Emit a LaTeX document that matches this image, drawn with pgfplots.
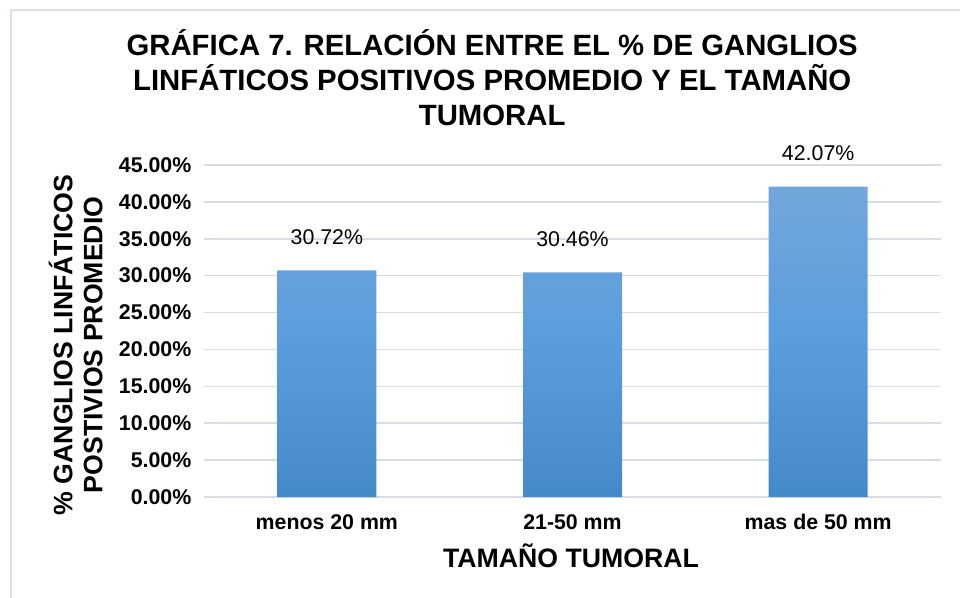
\documentclass[border=0pt]{standalone}
\usepackage{fontspec}
\setmainfont{Liberation Sans}
\usepackage{pgfplots}
\pgfplotsset{compat=1.18}
\definecolor{bartop}{RGB}{114,167,219}
\definecolor{barmid}{RGB}{90,157,221}
\definecolor{barbot}{RGB}{68,137,200}
\definecolor{gridc}{RGB}{217,220,226}
\definecolor{framec}{RGB}{218,223,234}
\begin{document}
\begin{tikzpicture}[x=0.75pt,y=0.75pt]
\path[use as bounding box] (0,0) rectangle (960,597);
\draw[framec, line width=1.2pt] (11,-2) -- (11,587) -- (962,587);
\begin{axis}[
  at={(153pt,75pt)}, anchor=south west,
  scale only axis, width=552.75pt, height=249pt,
  xmin=-0.5, xmax=2.5, ymin=0, ymax=45,
  xtick={0,1,2},
  xticklabels={menos 20 mm,21-50 mm,mas de 50 mm},
  ytick={0,5,...,45},
  yticklabel={\pgfmathprintnumber[fixed,fixed zerofill,precision=2]{\tick}\%},
  /pgf/number format/assume math mode=true,
  ymajorgrids,
  grid style={gridc, line width=1.1pt},
  axis line style={draw=none},
  major tick length=0pt,
  yticklabel style={font=\bfseries\fontsize{16}{19}\selectfont, xshift=-6pt},
  xticklabel style={font=\bfseries\fontsize{16}{19}\selectfont,
    anchor=base, yshift=-24.5pt},
  title={GRÁFICA 7. RELACIÓN ENTRE EL \% DE GANGLIOS\\LINFÁTICOS POSITIVOS PROMEDIO Y EL TAMAÑO\\TUMORAL},
  title style={at={(0.391,1.238)}, anchor=center, align=center,
    font=\bfseries\fontsize{22}{26.25}\selectfont},
  xlabel={TAMAÑO TUMORAL},
  xlabel style={at={(0.498,-0.176)}, anchor=center,
    font=\bfseries\fontsize{20}{24}\selectfont},
  ylabel={\% GANGLIOS LINFÁTICOS\\POSTIVIOS PROMEDIO},
  ylabel style={at={(-0.174,0.458)}, anchor=center, align=center,
    font=\bfseries\fontsize{20}{22.5}\selectfont},
]
\addplot[ybar, bar width=74.25pt, draw=none,
  top color=bartop, bottom color=barbot, middle color=barmid,
  nodes near coords={\pgfmathprintnumber[fixed,fixed zerofill,precision=2]{\pgfplotspointmeta}\%},
  nodes near coords style={text=black, anchor=center, yshift=24.75pt,
    font=\fontsize{16}{19}\selectfont},
] coordinates {(0,30.72) (1,30.46) (2,42.07)};
\end{axis}
\end{tikzpicture}
\end{document}
